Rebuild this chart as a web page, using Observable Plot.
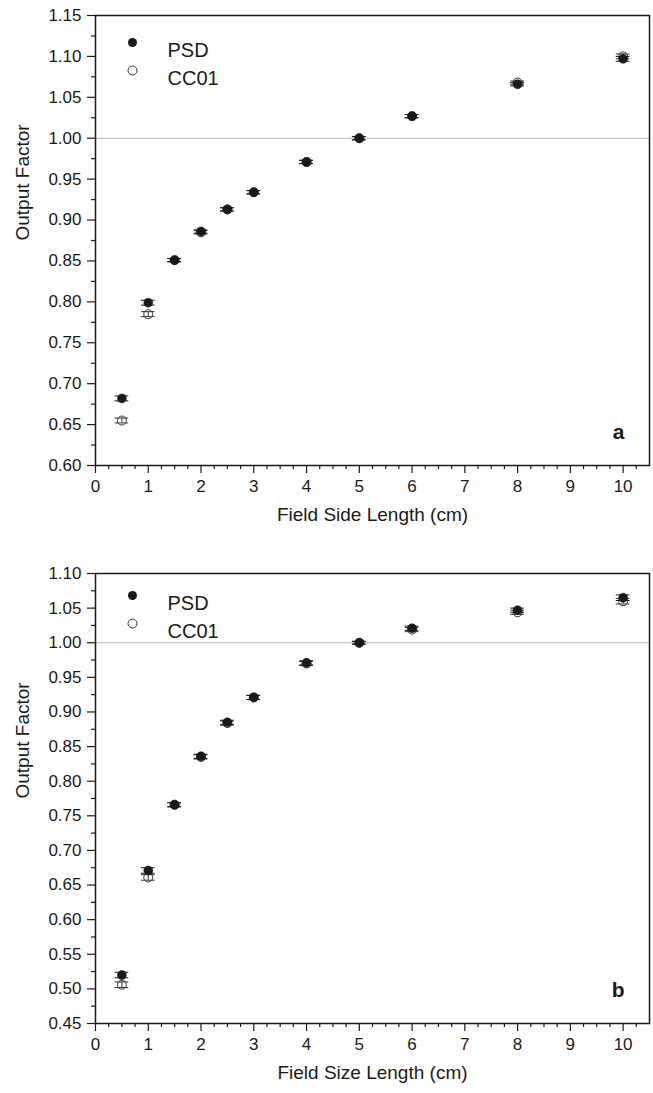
<!DOCTYPE html>
<html>
<head>
<meta charset="utf-8">
<script src="https://cdn.jsdelivr.net/npm/d3@7"></script>
<script src="https://cdn.jsdelivr.net/npm/@observablehq/plot@0.6"></script>
<style>
  html, body { margin: 0; padding: 0; background: #fff; }
  #chart svg { display: block; }
</style>
</head>
<body>
<div id="chart"></div>
<script>
// ---- data ----
const fieldSizes = [0.5, 1, 1.5, 2, 2.5, 3, 4, 5, 6, 8, 10];
const seriesNames = ["PSD", "CC01"];

// Panel a
const psdA  = [0.682, 0.799, 0.851, 0.886, 0.913, 0.934, 0.971, 1.000, 1.027, 1.066, 1.097];
const cc01A = [0.655, 0.785, 0.851, 0.885, 0.913, 0.934, 0.971, 1.000, 1.027, 1.068, 1.100];
const errPsdA  = [0.003, 0.003, 0.002, 0.002, 0.002, 0.002, 0.002, 0.002, 0.002, 0.002, 0.003];
const errCc01A = [0.003, 0.003, 0.002, 0.002, 0.002, 0.002, 0.002, 0.002, 0.002, 0.002, 0.003];

// Panel b
const psdB  = [0.520, 0.671, 0.766, 0.836, 0.885, 0.921, 0.971, 1.000, 1.021, 1.047, 1.065];
const cc01B = [0.506, 0.661, 0.766, 0.835, 0.884, 0.921, 0.970, 1.000, 1.019, 1.044, 1.060];
const errPsdB  = [0.004, 0.004, 0.003, 0.003, 0.003, 0.003, 0.003, 0.002, 0.003, 0.003, 0.004];
const errCc01B = [0.004, 0.004, 0.003, 0.003, 0.003, 0.003, 0.003, 0.002, 0.003, 0.003, 0.004];

const xTicks = [0, 1, 2, 3, 4, 5, 6, 7, 8, 9, 10];
const yTicksA = [0.60, 0.65, 0.70, 0.75, 0.80, 0.85, 0.90, 0.95, 1.00, 1.05, 1.10, 1.15];
const yTicksB = [0.45, 0.50, 0.55, 0.60, 0.65, 0.70, 0.75, 0.80, 0.85, 0.90, 0.95, 1.00, 1.05, 1.10];
const xTitleA = "Field Side Length (cm)";
const xTitleB = "Field Size Length (cm)";
const yTitle = "Output Factor";
const referenceLevel = [1.00];

// ---- helpers ----
const FONT = "'Liberation Sans', Arial, Helvetica, sans-serif";
const INK = "#1a1a1a";
const OPEN = "#333";

function rows(values, errs) {
  return fieldSizes.map((x, i) => ({x, y: values[i], e: errs[i]}));
}
function midpoints(t) {
  return t.slice(1).map((v, i) => (v + t[i]) / 2);
}
function quarters(t) {
  const out = [];
  for (let i = 0; i < t.length; i++) {
    out.push(t[i] + 0.25, t[i] + 0.5, t[i] + 0.75);
  }
  return out;
}

function panel({psd, cc, errP, errC, yTicks, xTitle, letter, marginTop, height, legendDy}) {
  const P = rows(psd, errP);
  const C = rows(cc, errC);
  const capHalf = 0.13;
  const errorMarks = (d, color) => [
    Plot.ruleX(d, {x: "x", y1: r => r.y - r.e, y2: r => r.y + r.e, stroke: color, strokeWidth: 1}),
    Plot.ruleY(d, {y: r => r.y - r.e, x1: r => r.x - capHalf, x2: r => r.x + capHalf, stroke: color, strokeWidth: 1}),
    Plot.ruleY(d, {y: r => r.y + r.e, x1: r => r.x - capHalf, x2: r => r.x + capHalf, stroke: color, strokeWidth: 1})
  ];
  return Plot.plot({
    width: 653,
    height,
    marginLeft: 95,
    marginRight: 4,
    marginTop,
    marginBottom: 70,
    style: {fontFamily: FONT, fontSize: "17px", color: INK, background: "#fff", overflow: "visible"},
    x: {domain: [0, 10.5]},
    y: {domain: [yTicks[0], yTicks[yTicks.length - 1]]},
    marks: [
      Plot.ruleY(referenceLevel, {stroke: "#b8b8b8", strokeWidth: 1.2}),
      // axes
      Plot.axisY(yTicks, {tickSize: 8, tickPadding: 6, tickFormat: d3.format(".2f"), label: null, stroke: INK, strokeWidth: 1.2, fontSize: 17}),
      Plot.axisY(midpoints(yTicks), {tickSize: 4, tickFormat: () => "", label: null, stroke: INK, strokeWidth: 1.2}),
      Plot.axisX(xTicks, {tickSize: 8, tickPadding: 6, tickFormat: d => d, label: null, stroke: INK, strokeWidth: 1.2, fontSize: 17}),
      Plot.axisX(quarters(xTicks).filter(v => v < 10.5), {tickSize: 4, tickFormat: () => "", label: null, stroke: INK, strokeWidth: 1.2}),
      Plot.frame({stroke: INK, strokeWidth: 1.5}),
      // axis titles
      Plot.text([yTitle], {frameAnchor: "left", rotate: -90, dx: -73, fontSize: 19, fill: INK}),
      Plot.text([xTitle], {frameAnchor: "bottom", dy: 55, fontSize: 19, fill: INK}),
      // data: CC01 first (open), PSD on top (filled)
      ...errorMarks(C, OPEN),
      Plot.dot(C, {x: "x", y: "y", r: 4.5, stroke: OPEN, strokeWidth: 1, fill: "none"}),
      ...errorMarks(P, INK),
      Plot.dot(P, {x: "x", y: "y", r: 4.5, fill: INK, stroke: INK, strokeWidth: 0.5}),
      // legend
      Plot.dot([seriesNames[0]], {frameAnchor: "top-left", dx: 37, dy: legendDy, r: 4.5, fill: INK}),
      Plot.text([seriesNames[0]], {frameAnchor: "top-left", dx: 72, dy: legendDy, textAnchor: "start", fontSize: 20, fill: INK}),
      Plot.dot([seriesNames[1]], {frameAnchor: "top-left", dx: 37, dy: legendDy + 28, r: 4.5, stroke: OPEN, strokeWidth: 1, fill: "none"}),
      Plot.text([seriesNames[1]], {frameAnchor: "top-left", dx: 72, dy: legendDy + 28, textAnchor: "start", fontSize: 20, fill: INK}),
      // panel letter
      Plot.text([letter], {frameAnchor: "bottom-right", dx: -25, dy: -27, fontSize: 21, fontWeight: "bold", fill: INK})
    ]
  });
}

const chart = document.getElementById("chart");
chart.append(panel({psd: psdA, cc: cc01A, errP: errPsdA, errC: errCc01A, yTicks: yTicksA, xTitle: xTitleA, letter: "a", marginTop: 15, height: 535, legendDy: 27}));
chart.append(panel({psd: psdB, cc: cc01B, errP: errPsdB, errC: errCc01B, yTicks: yTicksB, xTitle: xTitleB, letter: "b", marginTop: 38, height: 558, legendDy: 22}));
</script>
</body>
</html>
